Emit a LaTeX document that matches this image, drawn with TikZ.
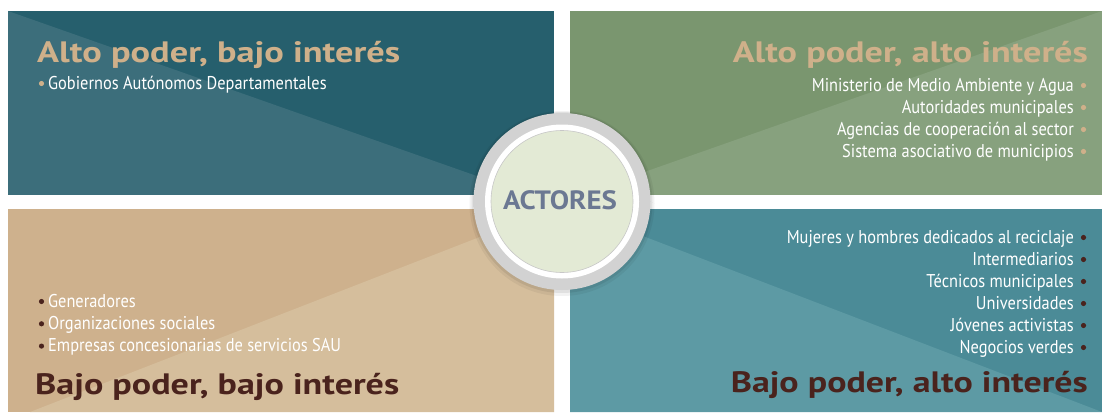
\documentclass[tikz,border=0pt]{standalone}
\usepackage{fontspec}
\usepackage{graphicx}
\setmainfont{PT Sans}
\newfontfamily\bodyfont[FakeStretch=0.885]{PT Sans}
\newfontfamily\headfont{PT Sans}
\definecolor{tlDark}{HTML}{265F6D}
\definecolor{tlLight}{HTML}{3C6E7B}
\definecolor{trDark}{HTML}{7A966F}
\definecolor{trLight}{HTML}{87A17E}
\definecolor{blDark}{HTML}{CEB18D}
\definecolor{blLight}{HTML}{D5BE9C}
\definecolor{brDark}{HTML}{4B8B97}
\definecolor{brLight}{HTML}{5D9AA4}
\definecolor{headTan}{HTML}{CFB08A}
\definecolor{headBrown}{HTML}{4A231D}
\definecolor{actText}{HTML}{6B7892}
\definecolor{innerGreen}{HTML}{E3EAD5}
\definecolor{ringIn}{HTML}{D2D2D2}
\definecolor{ringOut}{HTML}{979797}
\pgfdeclareradialshading{ringshade}{\pgfpoint{0bp}{0bp}}{color(0bp)=(ringIn); color(43bp)=(ringIn); color(47.5bp)=(ringOut); color(50bp)=(ringOut)}
\begin{document}
\begin{tikzpicture}[x=1pt,y=-1pt,
  head/.style={inner sep=0pt, font=\headfont\bfseries\fontsize{29.5}{30}\selectfont},
  itemtext/.style={inner sep=0pt, text=white, font=\bodyfont\fontsize{18.5}{19}\selectfont},
  dot/.style={circle, inner sep=0pt, minimum size=5.2pt}]
\useasboundingbox (0,0) rectangle (1102,412);
\fill[white] (0,0) rectangle (1102,412);
% panels
\fill[tlDark] (8,11) rectangle (554,194);
\begin{scope}
  \clip (8,11) rectangle (554,194);
  \fill[tlLight] (8,11) -- (562,206) -- (8,206) -- cycle;
\end{scope}
\fill[trDark] (570,11) rectangle (1102,194);
\begin{scope}
  \clip (570,11) rectangle (1102,194);
  \fill[trLight] (562,201) -- (1102,11) -- (1102,201) -- cycle;
\end{scope}
\fill[blDark] (8,209) rectangle (554,412);
\begin{scope}
  \clip (8,209) rectangle (554,412);
  \fill[blLight] (562,205) -- (30,412) -- (562,412) -- cycle;
\end{scope}
\fill[brDark] (570,209) rectangle (1102,412);
\begin{scope}
  \clip (570,209) rectangle (1102,412);
  \fill[brLight] (562,205) -- (1102,412) -- (562,412) -- cycle;
\end{scope}
% central circle
\coordinate (c) at (562,201.5);
\fill[black,opacity=0.05] ([yshift=-2pt]c) circle (92.5);
\fill[black,opacity=0.07] ([yshift=-1pt]c) circle (90.5);
\shade[shading=ringshade] (c) circle (88.5);
\fill[white] (c) circle (77);
\node[circle, minimum size=142pt, inner sep=0pt, fill=innerGreen, draw=black!22, line width=0.6pt] (disk) at (c) {};
\node[inner sep=0pt, anchor=base, text=actText, font=\headfont\bfseries\fontsize{26.5}{27}\selectfont] (actores) at (560,209.3) {\resizebox{114pt}{\height}{ACTORES}};
% headings
\node[head, anchor=base west, text=headTan] (h1) at (37,62) {\resizebox{363pt}{\height}{Alto poder, bajo interés}};
\node[head, anchor=base east, text=headTan] (h2) at (1088,62) {\resizebox{355pt}{\height}{Alto poder, alto interés}};
\node[head, anchor=base west, text=headBrown] (h3) at (35,394) {\resizebox{364pt}{\height}{Bajo poder, bajo interés}};
\node[head, anchor=base east, text=headBrown] (h4) at (1088,392) {\resizebox{357pt}{\height}{Bajo poder, alto interés}};
% top-left items
\node[itemtext, anchor=base west] (tl1) at (48,89) {Gobiernos Autónomos Departamentales};
\node[dot, fill=headTan] (tlb1) at (41.5,83.5) {};
% top-right items
\foreach \t [count=\i from 0] in {Ministerio de Medio Ambiente y Agua, Autoridades municipales, Agencias de cooperación al sector, Sistema asociativo de municipios}{
  \node[itemtext, anchor=base east] (tr\i) at (1074,91+22*\i) {\t};
  \node[dot, fill=headTan] (trb\i) at (1083.5,85.5+22*\i) {};
}
% bottom-right items
\foreach \t [count=\i from 0] in {Mujeres y hombres dedicados al reciclaje, Intermediarios, Técnicos municipales, Universidades, Jóvenes activistas, Negocios verdes}{
  \node[itemtext, anchor=base east] (br\i) at (1074,243+22*\i) {\t};
  \node[dot, fill=headBrown] (brb\i) at (1083.5,237.5+22*\i) {};
}
% bottom-left items
\foreach \t [count=\i from 0] in {Generadores, Organizaciones sociales, Empresas concesionarias de servicios SAU}{
  \node[itemtext, anchor=base west] (bl\i) at (48,307+22.3*\i) {\t};
  \node[dot, fill=headBrown] (blb\i) at (41.5,301.5+22.3*\i) {};
}
\end{tikzpicture}
\end{document}
